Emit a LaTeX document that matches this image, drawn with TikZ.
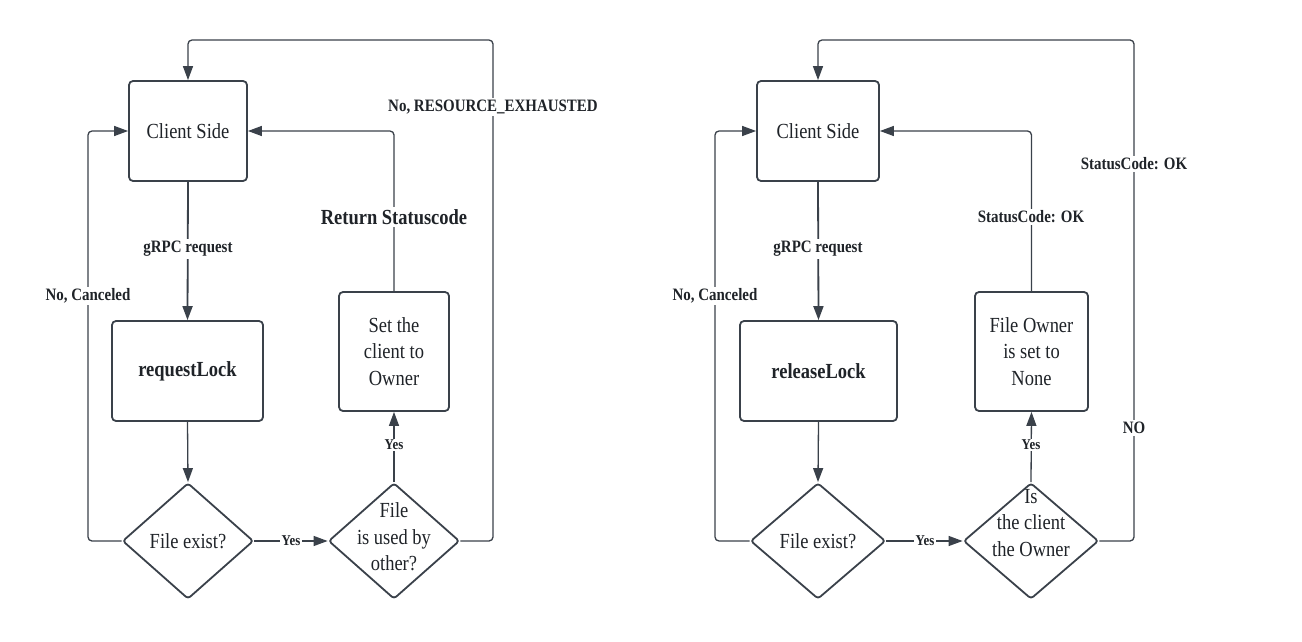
\documentclass[tikz,border=0pt]{standalone}
\usepackage{fontspec}
\setmainfont{Liberation Serif}[FakeStretch=0.86]
\usetikzlibrary{shapes.geometric,arrows.meta}
\definecolor{ln}{HTML}{3A414A}
\definecolor{tx}{HTML}{1F2328}
\begin{document}
\begin{tikzpicture}[x=1pt,y=-1pt,
  box/.style={draw=ln, line width=1.8pt, rounded corners=4pt, fill=white, inner sep=0pt,
    font=\fontsize{21.5}{26.7}\selectfont, text=tx, align=center},
  diam/.style={draw=ln, line width=1.8pt, diamond, rounded corners=3pt, fill=white,
    minimum height=116pt, inner sep=0pt},
  dtext/.style={font=\fontsize{21.5}{26.5}\selectfont, text=tx, align=center, inner sep=0pt},
  conn/.style={draw=ln, line width=1.3pt, rounded corners=4pt},
  arr/.style={conn, -{Triangle[length=14pt,width=10pt]}},
  lab/.style={fill=white, font=\bfseries\fontsize{17.4}{20}\selectfont, text=tx, inner sep=2pt},
  ylab/.style={fill=white, font=\bfseries\fontsize{15}{17}\selectfont, text=tx, inner sep=1.5pt},
]
\useasboundingbox (0,0) rectangle (1302,642);

% ---------- left flow ----------
\node[box, minimum width=118pt, minimum height=100pt] (cs1) at (188,131) {Client Side};
\node[box, minimum width=151pt, minimum height=100pt, font=\bfseries\fontsize{21.5}{26.7}\selectfont] (rl1) at (187.5,371) {requestLock};
\node[box, minimum width=110pt, minimum height=119pt] (set1) at (394,351.5) {Set the\\client to\\Owner};
\node[diam, minimum width=131pt] (d11) at (188,541) {};
\node[diam, minimum width=131pt] (d12) at (394,541) {};
\node[dtext] (d11t) at (188,541) {File exist?};
\node[dtext] (d12t) at (394,537) {File\\is used by\\other?};
\coordinate (tl1) at (493,40);
\coordinate (ll1) at (88,131);

\draw[arr, line width=1.8pt] (cs1.south) -- (rl1.north);
\draw[arr] (rl1.south) -- (d11.north);
\draw[arr] (d11.east) -- (d12.west);
\draw[arr] (d12.north) -- (set1.south);
\draw[arr] (set1.north) |- (cs1.east);
\draw[arr] (d11.west) -| (ll1) -- (cs1.west);
\draw[arr] (d12.east) -| (tl1) -| (cs1.north);

\node[lab] (g1) at (188,249) {gRPC request};
\node[lab, font=\bfseries\fontsize{21.5}{23}\selectfont] (r1) at (394,217) {Return Statuscode};
\node[lab] (n1) at (493,107) {No, RESOURCE\_EXHAUSTED};
\node[lab] (c1) at (88,296) {No, Canceled};
\node[ylab] (y11) at (291,541) {Yes};
\node[ylab] (y12) at (394,445) {Yes};

% ---------- right flow ----------
\node[box, minimum width=122pt, minimum height=100pt] (cs2) at (818,131) {Client Side};
\node[box, minimum width=157pt, minimum height=100pt, font=\bfseries\fontsize{21.5}{26.7}\selectfont] (rl2) at (818.5,371) {releaseLock};
\node[box, minimum width=113pt, minimum height=119pt] (set2) at (1031.5,351.5) {File Owner\\is set to\\None};
\node[diam, minimum width=135pt] (d21) at (818,541) {};
\node[diam, minimum width=135pt] (d22) at (1031,541) {};
\node[dtext] (d21t) at (818,541) {File exist?};
\node[dtext] (d22t) at (1031,523) {Is\\the client\\the Owner};
\coordinate (tl2) at (1134,40);
\coordinate (ll2) at (715,131);

\draw[arr, line width=1.8pt] (cs2.south) -- (rl2.north);
\draw[arr] (rl2.south) -- (d21.north);
\draw[arr] (d21.east) -- (d22.west);
\draw[arr] (d22.north) -- (set2.south);
\draw[arr] (set2.north) |- (cs2.east);
\draw[arr] (d21.west) -| (ll2) -- (cs2.west);
\draw[arr] (d22.east) -| (tl2) -| (cs2.north);

\node[lab] (g2) at (818,249) {gRPC request};
\node[lab] (s2a) at (1031,217) {StatusCode: OK};
\node[lab] (s2b) at (1134,164) {StatusCode: OK};
\node[lab] (no2) at (1134,428) {NO};
\node[lab] (c2) at (715,296) {No, Canceled};
\node[ylab] (y21) at (925,541) {Yes};
\node[ylab] (y22) at (1031,445) {Yes};
\end{tikzpicture}
\end{document}
